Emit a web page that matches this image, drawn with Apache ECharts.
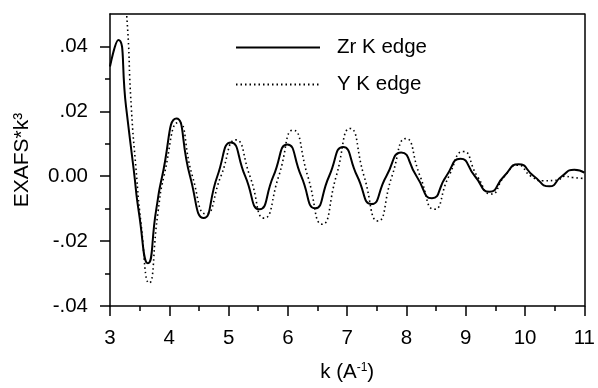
<!DOCTYPE html>
<html>
<head>
<meta charset="utf-8">
<script src="https://cdn.jsdelivr.net/npm/echarts@6/dist/echarts.min.js"></script>
<style>
html,body{margin:0;padding:0;background:#fff;}
#chart{width:598px;height:388px;}
</style>
</head>
<body>
<div id="chart"></div>
<script>
// Zr K edge (solid)
var kZr = [3.00, 3.14, 3.27, 3.40, 3.49, 3.64, 3.78, 3.88, 4.12, 4.35, 4.58, 4.81, 5.04, 5.28, 5.52, 5.755, 5.99, 6.225, 6.46, 6.695, 6.93, 7.17, 7.41, 7.66, 7.91, 8.17, 8.43, 8.67, 8.91, 9.155, 9.40, 9.645, 9.89, 10.15, 10.41, 10.62, 10.83, 11.00];
var vZr = [0.0338, 0.0420, 0.0215, 0.0020, -0.0115, -0.0268, -0.0102, 0.0, 0.0178, 0.0, -0.0129, 0.0, 0.0104, 0.0, -0.0102, 0.0, 0.0098, 0.0, -0.0099, 0.0, 0.0090, 0.0, -0.0086, 0.0, 0.0073, 0.0, -0.0068, 0.0, 0.0054, 0.0, -0.0048, 0.0, 0.0037, 0.0, -0.0031, 0.0, 0.0020, 0.0011];
// Y K edge (dotted)
var kY = [3.05, 3.15, 3.28, 3.36, 3.44, 3.52, 3.66, 3.81, 3.91, 4.16, 4.39, 4.62, 4.87, 5.12, 5.36, 5.60, 5.845, 6.09, 6.335, 6.58, 6.815, 7.05, 7.285, 7.52, 7.755, 7.99, 8.23, 8.47, 8.715, 8.96, 9.195, 9.43, 9.655, 9.88, 10.10, 10.30, 10.55, 10.66, 10.80, 11.00];
var vY = [0.068, 0.075, 0.050, 0.0210, 0.0020, -0.0140, -0.0329, -0.0110, 0.0, 0.0166, 0.0, -0.0116, 0.0, 0.0112, 0.0, -0.0129, 0.0, 0.0142, 0.0, -0.0148, 0.0, 0.0147, 0.0, -0.0138, 0.0, 0.0116, 0.0, -0.0102, 0.0, 0.0076, 0.0, -0.0055, 0.0, 0.0034, 0.0, -0.0014, -0.0012, 0.0, -0.0004, -0.0007];

var yMajor = [-0.04, -0.02, 0, 0.02, 0.04];
var yMinor = [-0.03, -0.01, 0.01, 0.03];

function pairs(ks, vs) { return ks.map(function (k, i) { return [k, vs[i]]; }); }

var FONT = 'Liberation Sans, Arial, sans-serif';
var FS = 20.5;
var LINE = { color: '#000', width: 1.5 };
var TICK = { color: '#000', width: 1.5 };
var chart = echarts.init(document.getElementById('chart'), null, { renderer: 'canvas' });
chart.setOption({
  animation: false,
  backgroundColor: '#fff',
  textStyle: { fontFamily: FONT, color: '#000' },
  grid: { left: 110, right: 11, top: 14, bottom: 82, show: false, containLabel: false },
  legend: {
    orient: 'vertical', left: 230, top: 32, itemWidth: 84, itemHeight: 14, itemGap: 16,
    itemStyle: { color: 'transparent', borderColor: 'transparent', borderWidth: 0 },
    textStyle: { fontSize: FS, fontFamily: FONT, color: '#000', padding: [0, 0, 0, 12] },
    data: ['Zr K edge', 'Y K edge']
  },
  xAxis: [{
    type: 'value', min: 3, max: 11, interval: 1, position: 'bottom',
    name: '{a|k (A}{s|-1}{a|)}', nameLocation: 'middle', nameGap: 56,
    nameTextStyle: { rich: { a: { fontSize: FS, fontFamily: FONT, color: '#000' }, s: { fontSize: 12, fontFamily: FONT, color: '#000', verticalAlign: 'top', padding: [0, 0, 8, 0] } } },
    axisLine: { show: true, onZero: false, lineStyle: LINE },
    axisTick: { show: true, inside: false, length: 10, lineStyle: TICK },
    minorTick: { show: true, splitNumber: 2, length: 5, lineStyle: TICK },
    axisLabel: { show: true, fontSize: FS, color: '#000', fontFamily: FONT, margin: 22 },
    splitLine: { show: false }, minorSplitLine: { show: false }
  }, {
    type: 'value', min: 3, max: 11, interval: 1, position: 'top',
    axisLine: { show: true, onZero: false, lineStyle: LINE },
    axisTick: { show: false }, axisLabel: { show: false }, splitLine: { show: false }
  }],
  yAxis: [{
    type: 'value', min: -0.04, max: 0.05, position: 'left',
    name: 'EXAFS*k³', nameLocation: 'middle', nameGap: 77, nameRotate: 90,
    nameTextStyle: { fontSize: 21, fontFamily: FONT, color: '#000' },
    axisLine: { show: true, onZero: false, lineStyle: LINE },
    axisTick: { show: false },
    axisLabel: { show: true, fontSize: FS, color: '#000', fontFamily: FONT, margin: 22, customValues: yMajor,
      formatter: function (v) { if (Math.abs(v) < 1e-9) return '0.00'; return v.toFixed(2).replace('0.', '.'); } },
    splitLine: { show: false }
  }, {
    type: 'value', min: -0.04, max: 0.05, position: 'left', offset: 0,
    axisLine: { show: false, onZero: false },
    axisTick: { show: true, inside: false, length: 5, lineStyle: TICK, customValues: yMinor },
    axisLabel: { show: false },
    splitLine: { show: false }
  }, {
    type: 'value', min: -0.04, max: 0.05, position: 'left', offset: 0,
    axisLine: { show: false, onZero: false },
    axisTick: { show: true, inside: false, length: 10, lineStyle: TICK, customValues: yMajor },
    axisLabel: { show: false },
    splitLine: { show: false }
  }, {
    type: 'value', min: -0.04, max: 0.05, position: 'right', offset: 0,
    axisLine: { show: true, onZero: false, lineStyle: LINE },
    axisTick: { show: false }, axisLabel: { show: false }, splitLine: { show: false }
  }],
  series: [{
    name: 'Zr K edge', type: 'line', data: pairs(kZr, vZr), smooth: 0.6, symbol: 'none', clip: true,
    xAxisIndex: 0, yAxisIndex: 0,
    lineStyle: { color: '#000', width: 2 }, itemStyle: { color: '#000' }
  }, {
    name: 'Y K edge', type: 'line', data: pairs(kY, vY), smooth: 0.6, symbol: 'none', clip: true,
    xAxisIndex: 0, yAxisIndex: 0,
    lineStyle: { color: '#000', width: 1.6, type: [1.5, 3] }, itemStyle: { color: '#000' }
  }]
});
</script>
</body>
</html>
